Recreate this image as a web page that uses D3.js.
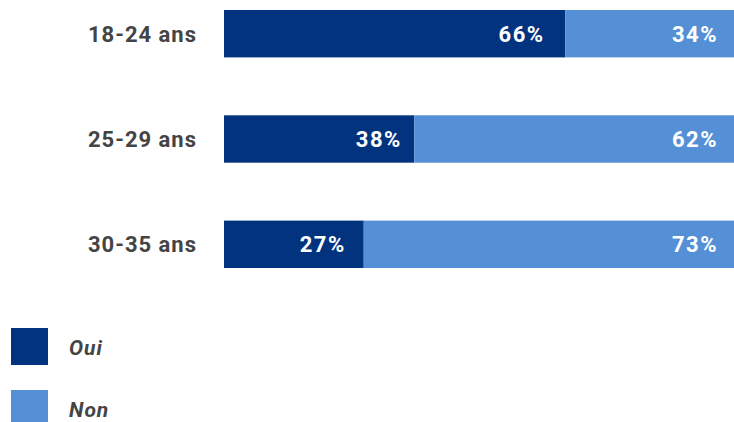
<!DOCTYPE html>
<html>
<head>
<meta charset="utf-8">
<script src="https://cdn.jsdelivr.net/npm/d3@7"></script>
<style>
  body { margin: 0; background: #fff; }
  svg { display: block; font-family: Roboto, "Noto Sans", sans-serif; }
</style>
</head>
<body>
<div id="chart"></div>
<script>
// values
var ages = ['18-24 ans', '25-29 ans', '30-35 ans'];
var oui = [66.9, 37.3, 27.4];
var ouiLabels = [66, 38, 27];
var nonLabels = [34, 62, 73];
var seriesNames = ['Oui', 'Non'];
var colors = ['#02337f', '#558fd6'];

var w = 734, h = 422;
var svg = d3.select('#chart').append('svg').attr('width', w).attr('height', h);

var x = d3.scaleLinear().domain([0, 100]).range([224, 734]);
var y = d3.scaleBand().domain(ages).range([10, 268]).paddingInner(0.55).paddingOuter(0);

var rows = ages.map(function(a, i) {
  return { age: a, oui: oui[i], non: 100 - oui[i], ouiLab: ouiLabels[i], nonLab: nonLabels[i] };
});
var stack = d3.stack().keys(['oui', 'non'])(rows);

svg.append('g').selectAll('g')
  .data(stack)
  .join('g')
  .attr('fill', function(d, i) { return colors[i]; })
  .selectAll('rect')
  .data(function(d) { return d; })
  .join('rect')
  .attr('x', function(d) { return x(d[0]); })
  .attr('y', function(d) { return y(d.data.age); })
  .attr('width', function(d) { return x(d[1]) - x(d[0]); })
  .attr('height', y.bandwidth());

// category labels
svg.append('g').selectAll('text')
  .data(ages)
  .join('text')
  .attr('x', 197)
  .attr('y', function(d) { return y(d) + y.bandwidth() / 2; })
  .attr('dy', '0.36em')
  .attr('text-anchor', 'end')
  .attr('fill', '#444')
  .style('font-size', '22px')
  .style('font-weight', 700)
  .style('letter-spacing', '1px')
  .text(function(d) { return d; });

// value labels, placed at the rounded share
var pad = 16;
var labels = [];
rows.forEach(function(r) {
  labels.push({ age: r.age, pos: r.ouiLab, text: r.ouiLab + '%' });
  labels.push({ age: r.age, pos: 100, text: r.nonLab + '%' });
});
svg.append('g').selectAll('text')
  .data(labels)
  .join('text')
  .attr('x', function(d) { return x(d.pos) - pad; })
  .attr('y', function(d) { return y(d.age) + y.bandwidth() / 2; })
  .attr('dy', '0.36em')
  .attr('text-anchor', 'end')
  .attr('fill', '#fff')
  .style('font-size', '22px')
  .style('font-weight', 700)
  .style('letter-spacing', '1.5px')
  .text(function(d) { return d.text; });

// legend
var legend = svg.append('g').selectAll('g')
  .data(seriesNames)
  .join('g')
  .attr('transform', function(d, i) { return 'translate(11,' + (328 + i * 62) + ')'; });
legend.append('rect')
  .attr('width', 37)
  .attr('height', 37)
  .attr('fill', function(d, i) { return colors[i]; });
legend.append('text')
  .attr('x', 58)
  .attr('y', 19)
  .attr('dy', '0.36em')
  .attr('fill', '#444')
  .style('font-size', '21px')
  .style('font-weight', 700)
  .style('font-style', 'italic')
  .style('letter-spacing', '1px')
  .text(function(d) { return d; });
</script>
</body>
</html>
